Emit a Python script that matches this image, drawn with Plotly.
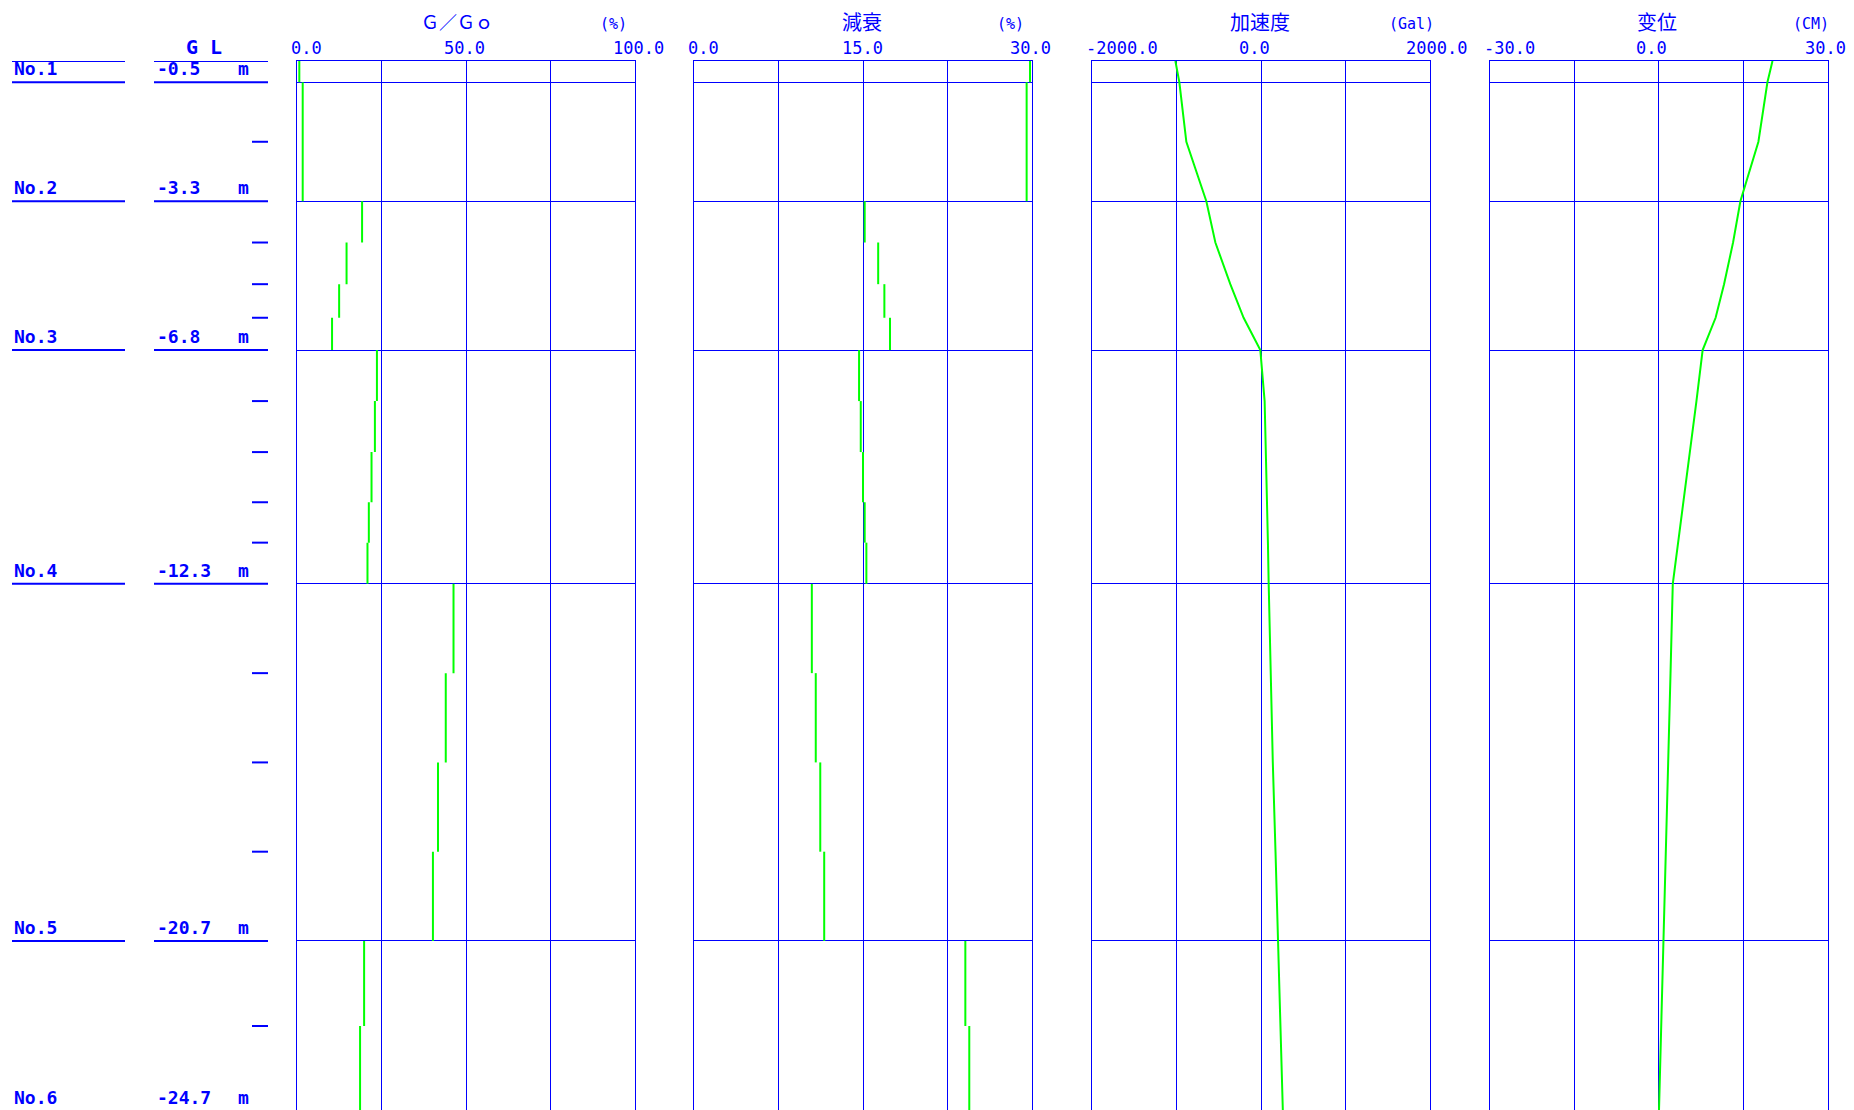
import plotly.graph_objects as go

# ---- soil column -------------------------------------------------------
layer_names = ["No.1", "No.2", "No.3", "No.4", "No.5", "No.6"]
layer_gl = [-0.5, -3.3, -6.8, -12.3, -20.7, -24.7]          # layer bottoms (m)
sub_gl = [-1.9, -4.27, -5.25, -6.04, -8.0, -9.2, -10.38, -11.33,
          -14.4, -16.5, -18.6, -22.7]                         # sub-division marks (m)

# sub-layers for the step profiles (top -> bottom)
seg_top = [0.0, -0.5, -3.3, -4.27, -5.25, -6.04, -6.8, -8.0, -9.2, -10.38,
           -11.33, -12.3, -14.4, -16.5, -18.6, -20.7, -22.7]
seg_bot = [-0.5, -3.3, -4.27, -5.25, -6.04, -6.8, -8.0, -9.2, -10.38, -11.33,
           -12.3, -14.4, -16.5, -18.6, -20.7, -22.7, -24.7]
g_ratio = [0.6, 1.6, 19.2, 14.6, 12.4, 10.3, 23.6, 23.0, 22.0, 21.2,
           20.8, 46.3, 44.0, 41.7, 40.2, 19.8, 18.6]          # G/Go (%)
damping = [29.85, 29.55, 15.15, 16.35, 16.9, 17.4, 14.65, 14.8, 15.0, 15.15,
           15.3, 10.45, 10.8, 11.2, 11.55, 24.1, 24.45]       # damping (%)

# nodal response profiles
node_gl = [0.0, -0.5, -1.9, -3.3, -4.27, -5.25, -6.04, -6.8, -8.0, -9.2,
           -10.38, -11.33, -12.3, -14.4, -16.5, -18.6, -20.7, -22.7, -24.7]
accel = [-1015, -968, -885, -648, -541, -364, -206, -8, 43, 59,
         72, 82, 91, 112, 140, 172, 203, 231, 259]            # Gal
disp = [20.2, 19.3, 17.7, 14.5, 13.2, 11.6, 10.1, 7.8, 6.7, 5.5,
        4.4, 3.4, 2.5, 2.1, 1.7, 1.3, 0.86, 0.45, 0.05]       # cm

# ---- panel definitions -------------------------------------------------
panel_titles = ["Ｇ／Ｇｏ", "減衰", "加速度", "变位"]
panel_units = ["(%)", "(%)", "(Gal)", "(CM)"]
panel_ranges = [[0, 100], [0, 30], [-2000, 2000], [-30, 30]]
panel_ticks = [[0, 50, 100], [0, 15, 30], [-2000, 0, 2000], [-30, 0, 30]]
panel_ticktext = [["0.0", "50.0", "100.0"], ["0.0", "15.0", "30.0"],
                  ["-2000.0", "0.0", "2000.0"], ["-30.0", "0.0", "30.0"]]

W, H = 1854, 1110
BLUE = "#0000ff"
GREEN = "#00ff00"
MONO = "DejaVu Sans Mono"
CJK = "Noto Sans CJK JP"

panel_px = [(297.3, 634.7), (694.3, 1031.7), (1092.3, 1429.7), (1489.7, 1827.7)]
top_px = 61.0
depth_bottom = -(H - top_px) / 42.51
ydom = [0, 1 - top_px / H]


def gl_to_paper(gl):
    """Map a GL depth onto paper coordinates of the shared depth axis."""
    return ydom[0] + (ydom[1] - ydom[0]) * (gl - depth_bottom) / (0 - depth_bottom)


fig = go.Figure()


def step_xy(vals):
    xs, ys = [], []
    for v, t, b in zip(vals, seg_top, seg_bot):
        xs += [v, v, None]
        ys += [t, b, None]
    return xs, ys


gx, gy = step_xy(g_ratio)
dx, dy = step_xy(damping)
series = [(gx, gy), (dx, dy), (accel, node_gl), (disp, node_gl)]

for i, (xs, ys) in enumerate(series):
    n = "" if i == 0 else str(i + 1)
    fig.add_trace(go.Scatter(x=xs, y=ys, mode="lines",
                             line=dict(color=GREEN, width=2),
                             xaxis="x" + n, yaxis="y" + n,
                             showlegend=False, hoverinfo="skip"))

layout = dict(width=W, height=H, autosize=False,
              margin=dict(l=0, r=0, t=0, b=0),
              paper_bgcolor="white", plot_bgcolor="white",
              showlegend=False)

annotations = []
for i in range(4):
    n = "" if i == 0 else str(i + 1)
    x0, x1 = panel_px[i]
    lo, hi = panel_ranges[i]
    layout["xaxis" + n] = dict(
        domain=[x0 / W, x1 / W], range=[lo, hi], anchor="y" + n, side="top",
        tickmode="linear", tick0=lo, dtick=(hi - lo) / 4,
        showgrid=True, gridcolor=BLUE, gridwidth=1,
        showline=True, linecolor=BLUE, linewidth=1,
        showticklabels=False, ticks="", zeroline=False, fixedrange=True)
    layout["yaxis" + n] = dict(
        domain=ydom, range=[depth_bottom, 0], anchor="x" + n,
        tickmode="array", tickvals=layer_gl,
        showgrid=True, gridcolor=BLUE, gridwidth=1,
        showline=True, linecolor=BLUE, linewidth=1, mirror=True,
        showticklabels=False, ticks="", zeroline=False, fixedrange=True)

    # axis scale labels above each panel
    shifts = {0: [9, -2, 4], 1: [9, -1, -1], 2: [30, -7, 7], 3: [20, -7, -2]}[i]
    for tv, tt, sh in zip(panel_ticks[i], panel_ticktext[i], shifts):
        annotations.append(dict(x=tv, xref="x" + n, y=1 - 48 / H, yref="paper",
                                text=tt, showarrow=False, xanchor="center",
                                yanchor="middle", xshift=sh,
                                font=dict(family=MONO, size=17, color=BLUE)))

# panel titles and units
title_cx = [457, 862, 1260, 1657]
unit_cx = [613, 1010, 1411, 1811]
for i in range(4):
    annotations.append(dict(x=title_cx[i] / W, xref="paper", y=1 - 21 / H,
                            yref="paper", text=panel_titles[i], showarrow=False,
                            xanchor="center", yanchor="middle",
                            font=dict(family=CJK, size=18 if i == 0 else 20,
                                      color=BLUE)))
    annotations.append(dict(x=unit_cx[i] / W, xref="paper", y=1 - 24 / H,
                            yref="paper", text=panel_units[i], showarrow=False,
                            xanchor="center", yanchor="middle",
                            font=dict(family=MONO, size=15, color=BLUE)))

# GL header
annotations.append(dict(x=204 / W, xref="paper", y=1 - 47 / H, yref="paper",
                        text="G L", showarrow=False, xanchor="center",
                        yanchor="middle",
                        font=dict(family=MONO, size=20, color=BLUE, weight="bold")))

# layer labels on the left
shapes = []
for gl in [0.0] + layer_gl:
    for xa, xb in [(12, 125), (154, 268)]:
        shapes.append(dict(type="line", xref="paper", yref="y",
                           x0=xa / W, x1=xb / W, y0=gl, y1=gl,
                           line=dict(color=BLUE, width=2)))
for gl in sub_gl:
    shapes.append(dict(type="line", xref="paper", yref="y",
                       x0=252 / W, x1=268 / W, y0=gl, y1=gl,
                       line=dict(color=BLUE, width=2)))

for name, gl in zip(layer_names, layer_gl):
    lab_font = dict(family=MONO, size=18, color=BLUE, weight="bold")
    py = gl_to_paper(gl)
    annotations.append(dict(x=12 / W, xref="paper", y=py, yref="paper", text=name,
                            showarrow=False, xanchor="left", yanchor="bottom",
                            font=lab_font, yshift=1))
    annotations.append(dict(x=155 / W, xref="paper", y=py, yref="paper",
                            text=f"{gl:.1f}", showarrow=False, xanchor="left",
                            yanchor="bottom", font=lab_font, yshift=1))
    annotations.append(dict(x=243 / W, xref="paper", y=py, yref="paper", text="m",
                            showarrow=False, xanchor="center", yanchor="bottom",
                            font=lab_font, yshift=1))

layout["annotations"] = annotations
layout["shapes"] = shapes
fig.update_layout(**layout)

fig.write_html("out.html")
